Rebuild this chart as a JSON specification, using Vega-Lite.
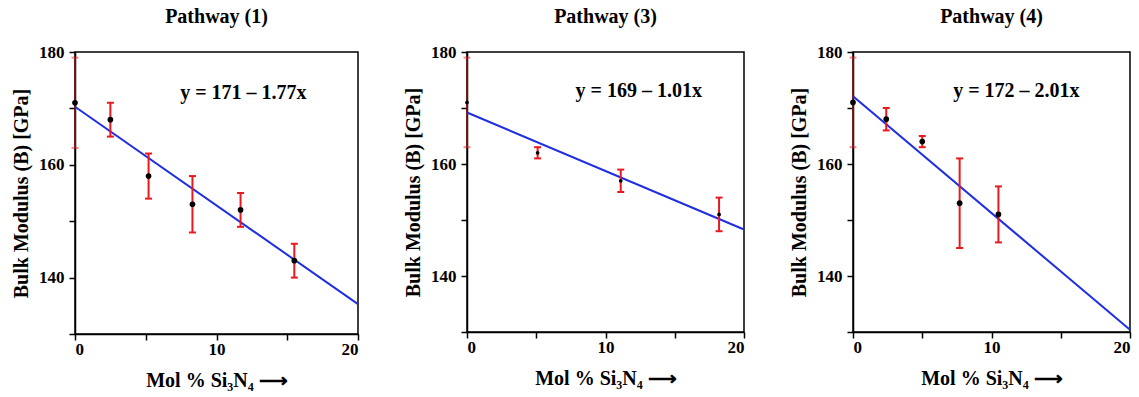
{
  "$schema": "https://vega.github.io/schema/vega-lite/v6.json",
  "background": "white",
  "padding": {"left": 10, "top": 6, "right": 5, "bottom": 5},
  "spacing": 39,
  "config": {
    "font": "serif",
    "view": {"stroke": "black", "strokeWidth": 1.5},
    "axis": {"domainColor": "black", "domainWidth": 1.5, "tickColor": "black", "tickWidth": 1.5, "tickSize": 6, "labelPadding": 5, "labelFont": "serif", "labelFontSize": 17, "labelFontWeight": "bold", "labelColor": "black", "titleFont": "serif", "titleFontSize": 20, "titleFontWeight": "bold", "titleColor": "black", "grid": false},
    "axisX": {"tickSize": 6, "labelPadding": 1, "titleFontSize": 20, "titlePadding": 13},
    "axisY": {"titlePadding": 7},
    "title": {"font": "serif", "fontSize": 20, "fontWeight": "bold", "color": "black", "offset": 16}
  },
  "datasets": {
    "pts": [
      {"p": 1, "x": 0, "y": 171, "lo": 163, "hi": 179},
      {"p": 1, "x": 2.5, "y": 168, "lo": 165, "hi": 171},
      {"p": 1, "x": 5.2, "y": 158, "lo": 154, "hi": 162},
      {"p": 1, "x": 8.3, "y": 153, "lo": 148, "hi": 158},
      {"p": 1, "x": 11.7, "y": 152, "lo": 149, "hi": 155},
      {"p": 1, "x": 15.5, "y": 143, "lo": 140, "hi": 146},
      {"p": 3, "x": 0, "y": 171, "lo": 163, "hi": 179},
      {"p": 3, "x": 5.1, "y": 162, "lo": 161, "hi": 163},
      {"p": 3, "x": 11.1, "y": 157, "lo": 155, "hi": 159},
      {"p": 3, "x": 18.2, "y": 151, "lo": 148, "hi": 154},
      {"p": 4, "x": 0, "y": 171, "lo": 163, "hi": 179},
      {"p": 4, "x": 2.4, "y": 168, "lo": 166, "hi": 170},
      {"p": 4, "x": 5.0, "y": 164, "lo": 163, "hi": 165},
      {"p": 4, "x": 7.7, "y": 153, "lo": 145, "hi": 161},
      {"p": 4, "x": 10.5, "y": 151, "lo": 146, "hi": 156}
    ],
    "fits": [
      {"p": 1, "x": 0, "y": 170.3}, {"p": 1, "x": 20, "y": 135.3},
      {"p": 3, "x": 0, "y": 169.2}, {"p": 3, "x": 20, "y": 148.3},
      {"p": 4, "x": 0, "y": 172.1}, {"p": 4, "x": 20, "y": 130.4}
    ],
    "eqs": [
      {"p": 1, "x": 11.9, "y": 172.7, "text": "y = 171 – 1.77x"},
      {"p": 3, "x": 12.4, "y": 173.0, "text": "y = 169 – 1.01x"},
      {"p": 4, "x": 11.8, "y": 173.0, "text": "y = 172 – 2.01x"}
    ]
  },
  "hconcat": [
    {
      "width": 283, "height": 282,
      "title": "Pathway (1)",
      "encoding": {
        "x": {"field": "x", "type": "quantitative", "scale": {"domain": [0, 20], "nice": false, "zero": false}, "axis": {"values": [0, 5, 10, 15, 20], "labelExpr": "datum.value % 10 == 0 ? datum.label : ''", "title": "Mol % Si₃N₄ ⟶"}}
      },
      "layer": [
        {"data": {"name": "fits"}, "transform": [{"filter": "datum.p == 1"}], "mark": {"type": "line", "color": "#1f2fe0", "strokeWidth": 2},
         "encoding": {"y": {"field": "y", "type": "quantitative", "scale": {"domain": [130, 180], "nice": false, "zero": false}, "axis": {"values": [130, 140, 150, 160, 170, 180], "labelExpr": "datum.value % 20 == 0 ? datum.label : ''", "title": "Bulk Modulus (B) [GPa]"}}}},
        {"data": {"name": "pts"}, "transform": [{"filter": "datum.p == 1"}], "mark": {"type": "rule"},
         "encoding": {"y": {"field": "lo", "type": "quantitative", "scale": {"domain": [130, 180], "nice": false, "zero": false}, "axis": {"values": [130, 140, 150, 160, 170, 180], "labelExpr": "datum.value % 20 == 0 ? datum.label : ''", "title": "Bulk Modulus (B) [GPa]"}}, "y2": {"field": "hi"},
           "color": {"condition": {"test": "datum.x == 0", "value": "#8a1a1a"}, "value": "#e8191f"},
           "strokeWidth": {"condition": {"test": "datum.x == 0", "value": 1.5}, "value": 2}}},
        {"data": {"name": "pts"}, "transform": [{"filter": "datum.p == 1"}], "mark": {"type": "tick", "orient": "horizontal", "color": "#e8191f", "size": 7, "thickness": 2},
         "encoding": {"y": {"field": "lo", "type": "quantitative", "scale": {"domain": [130, 180], "nice": false, "zero": false}, "axis": {"values": [130, 140, 150, 160, 170, 180], "labelExpr": "datum.value % 20 == 0 ? datum.label : ''", "title": "Bulk Modulus (B) [GPa]"}},
           "opacity": {"condition": {"test": "datum.x == 0", "value": 0.5}, "value": 1}}},
        {"data": {"name": "pts"}, "transform": [{"filter": "datum.p == 1"}], "mark": {"type": "tick", "orient": "horizontal", "color": "#e8191f", "size": 7, "thickness": 2},
         "encoding": {"y": {"field": "hi", "type": "quantitative", "scale": {"domain": [130, 180], "nice": false, "zero": false}, "axis": {"values": [130, 140, 150, 160, 170, 180], "labelExpr": "datum.value % 20 == 0 ? datum.label : ''", "title": "Bulk Modulus (B) [GPa]"}},
           "opacity": {"condition": {"test": "datum.x == 0", "value": 0.5}, "value": 1}}},
        {"data": {"name": "pts"}, "transform": [{"filter": "datum.p == 1"}], "mark": {"type": "circle", "color": "black", "opacity": 1, "size": 32},
         "encoding": {"y": {"field": "y", "type": "quantitative", "scale": {"domain": [130, 180], "nice": false, "zero": false}, "axis": {"values": [130, 140, 150, 160, 170, 180], "labelExpr": "datum.value % 20 == 0 ? datum.label : ''", "title": "Bulk Modulus (B) [GPa]"}}}},
        {"data": {"name": "eqs"}, "transform": [{"filter": "datum.p == 1"}], "mark": {"type": "text", "font": "serif", "fontSize": 20, "fontWeight": "bold", "color": "black"},
         "encoding": {"y": {"field": "y", "type": "quantitative", "scale": {"domain": [130, 180], "nice": false, "zero": false}, "axis": {"values": [130, 140, 150, 160, 170, 180], "labelExpr": "datum.value % 20 == 0 ? datum.label : ''", "title": "Bulk Modulus (B) [GPa]"}}, "text": {"field": "text"}}}
      ]
    },
    {
      "width": 277, "height": 280,
      "title": "Pathway (3)",
      "encoding": {
        "x": {"field": "x", "type": "quantitative", "scale": {"domain": [0, 20], "nice": false, "zero": false}, "axis": {"values": [0, 5, 10, 15, 20], "labelExpr": "datum.value % 10 == 0 ? datum.label : ''", "title": "Mol % Si₃N₄ ⟶"}}
      },
      "layer": [
        {"data": {"name": "fits"}, "transform": [{"filter": "datum.p == 3"}], "mark": {"type": "line", "color": "#1f2fe0", "strokeWidth": 2},
         "encoding": {"y": {"field": "y", "type": "quantitative", "scale": {"domain": [130, 180], "nice": false, "zero": false}, "axis": {"values": [130, 140, 150, 160, 170, 180], "labelExpr": "datum.value % 20 == 0 ? datum.label : ''", "title": "Bulk Modulus (B) [GPa]"}}}},
        {"data": {"name": "pts"}, "transform": [{"filter": "datum.p == 3"}], "mark": {"type": "rule"},
         "encoding": {"y": {"field": "lo", "type": "quantitative", "scale": {"domain": [130, 180], "nice": false, "zero": false}, "axis": {"values": [130, 140, 150, 160, 170, 180], "labelExpr": "datum.value % 20 == 0 ? datum.label : ''", "title": "Bulk Modulus (B) [GPa]"}}, "y2": {"field": "hi"},
           "color": {"condition": {"test": "datum.x == 0", "value": "#8a1a1a"}, "value": "#e8191f"},
           "strokeWidth": {"condition": {"test": "datum.x == 0", "value": 1.5}, "value": 2}}},
        {"data": {"name": "pts"}, "transform": [{"filter": "datum.p == 3"}], "mark": {"type": "tick", "orient": "horizontal", "color": "#e8191f", "size": 7, "thickness": 2},
         "encoding": {"y": {"field": "lo", "type": "quantitative", "scale": {"domain": [130, 180], "nice": false, "zero": false}, "axis": {"values": [130, 140, 150, 160, 170, 180], "labelExpr": "datum.value % 20 == 0 ? datum.label : ''", "title": "Bulk Modulus (B) [GPa]"}},
           "opacity": {"condition": {"test": "datum.x == 0", "value": 0.5}, "value": 1}}},
        {"data": {"name": "pts"}, "transform": [{"filter": "datum.p == 3"}], "mark": {"type": "tick", "orient": "horizontal", "color": "#e8191f", "size": 7, "thickness": 2},
         "encoding": {"y": {"field": "hi", "type": "quantitative", "scale": {"domain": [130, 180], "nice": false, "zero": false}, "axis": {"values": [130, 140, 150, 160, 170, 180], "labelExpr": "datum.value % 20 == 0 ? datum.label : ''", "title": "Bulk Modulus (B) [GPa]"}},
           "opacity": {"condition": {"test": "datum.x == 0", "value": 0.5}, "value": 1}}},
        {"data": {"name": "pts"}, "transform": [{"filter": "datum.p == 3"}], "mark": {"type": "circle", "color": "black", "opacity": 1, "size": 14},
         "encoding": {"y": {"field": "y", "type": "quantitative", "scale": {"domain": [130, 180], "nice": false, "zero": false}, "axis": {"values": [130, 140, 150, 160, 170, 180], "labelExpr": "datum.value % 20 == 0 ? datum.label : ''", "title": "Bulk Modulus (B) [GPa]"}}}},
        {"data": {"name": "eqs"}, "transform": [{"filter": "datum.p == 3"}], "mark": {"type": "text", "font": "serif", "fontSize": 20, "fontWeight": "bold", "color": "black"},
         "encoding": {"y": {"field": "y", "type": "quantitative", "scale": {"domain": [130, 180], "nice": false, "zero": false}, "axis": {"values": [130, 140, 150, 160, 170, 180], "labelExpr": "datum.value % 20 == 0 ? datum.label : ''", "title": "Bulk Modulus (B) [GPa]"}}, "text": {"field": "text"}}}
      ]
    },
    {
      "width": 277, "height": 280,
      "title": "Pathway (4)",
      "encoding": {
        "x": {"field": "x", "type": "quantitative", "scale": {"domain": [0, 20], "nice": false, "zero": false}, "axis": {"values": [0, 5, 10, 15, 20], "labelExpr": "datum.value % 10 == 0 ? datum.label : ''", "title": "Mol % Si₃N₄ ⟶"}}
      },
      "layer": [
        {"data": {"name": "fits"}, "transform": [{"filter": "datum.p == 4"}], "mark": {"type": "line", "color": "#1f2fe0", "strokeWidth": 2},
         "encoding": {"y": {"field": "y", "type": "quantitative", "scale": {"domain": [130, 180], "nice": false, "zero": false}, "axis": {"values": [130, 140, 150, 160, 170, 180], "labelExpr": "datum.value % 20 == 0 ? datum.label : ''", "title": "Bulk Modulus (B) [GPa]"}}}},
        {"data": {"name": "pts"}, "transform": [{"filter": "datum.p == 4"}], "mark": {"type": "rule"},
         "encoding": {"y": {"field": "lo", "type": "quantitative", "scale": {"domain": [130, 180], "nice": false, "zero": false}, "axis": {"values": [130, 140, 150, 160, 170, 180], "labelExpr": "datum.value % 20 == 0 ? datum.label : ''", "title": "Bulk Modulus (B) [GPa]"}}, "y2": {"field": "hi"},
           "color": {"condition": {"test": "datum.x == 0", "value": "#8a1a1a"}, "value": "#e8191f"},
           "strokeWidth": {"condition": {"test": "datum.x == 0", "value": 1.5}, "value": 2}}},
        {"data": {"name": "pts"}, "transform": [{"filter": "datum.p == 4"}], "mark": {"type": "tick", "orient": "horizontal", "color": "#e8191f", "size": 7, "thickness": 2},
         "encoding": {"y": {"field": "lo", "type": "quantitative", "scale": {"domain": [130, 180], "nice": false, "zero": false}, "axis": {"values": [130, 140, 150, 160, 170, 180], "labelExpr": "datum.value % 20 == 0 ? datum.label : ''", "title": "Bulk Modulus (B) [GPa]"}},
           "opacity": {"condition": {"test": "datum.x == 0", "value": 0.5}, "value": 1}}},
        {"data": {"name": "pts"}, "transform": [{"filter": "datum.p == 4"}], "mark": {"type": "tick", "orient": "horizontal", "color": "#e8191f", "size": 7, "thickness": 2},
         "encoding": {"y": {"field": "hi", "type": "quantitative", "scale": {"domain": [130, 180], "nice": false, "zero": false}, "axis": {"values": [130, 140, 150, 160, 170, 180], "labelExpr": "datum.value % 20 == 0 ? datum.label : ''", "title": "Bulk Modulus (B) [GPa]"}},
           "opacity": {"condition": {"test": "datum.x == 0", "value": 0.5}, "value": 1}}},
        {"data": {"name": "pts"}, "transform": [{"filter": "datum.p == 4"}], "mark": {"type": "circle", "color": "black", "opacity": 1, "size": 32},
         "encoding": {"y": {"field": "y", "type": "quantitative", "scale": {"domain": [130, 180], "nice": false, "zero": false}, "axis": {"values": [130, 140, 150, 160, 170, 180], "labelExpr": "datum.value % 20 == 0 ? datum.label : ''", "title": "Bulk Modulus (B) [GPa]"}}}},
        {"data": {"name": "eqs"}, "transform": [{"filter": "datum.p == 4"}], "mark": {"type": "text", "font": "serif", "fontSize": 20, "fontWeight": "bold", "color": "black"},
         "encoding": {"y": {"field": "y", "type": "quantitative", "scale": {"domain": [130, 180], "nice": false, "zero": false}, "axis": {"values": [130, 140, 150, 160, 170, 180], "labelExpr": "datum.value % 20 == 0 ? datum.label : ''", "title": "Bulk Modulus (B) [GPa]"}}, "text": {"field": "text"}}}
      ]
    }
  ]
}
